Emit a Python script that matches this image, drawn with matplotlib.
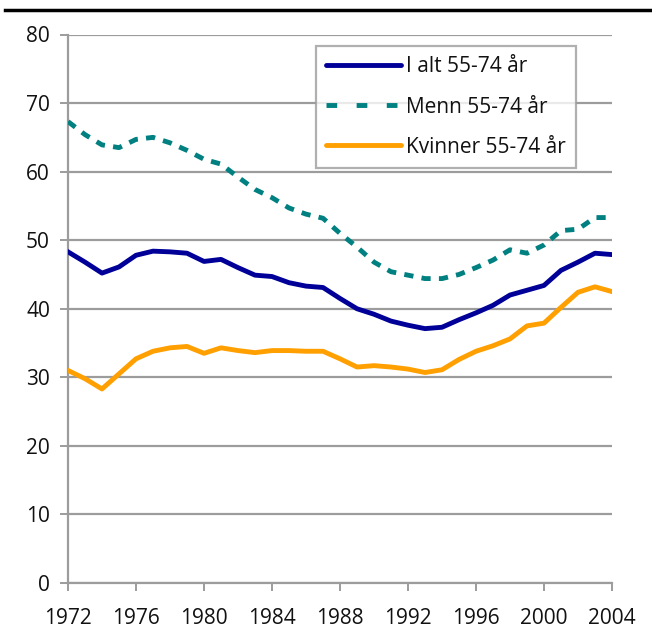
import numpy as np
import matplotlib
matplotlib.use("Agg")
import matplotlib.pyplot as plt
from matplotlib.lines import Line2D

plt.rcParams['font.family'] = ['Open Sans', 'DejaVu Sans']

years = np.arange(1972, 2005)
i_alt = [48.3, 46.8, 45.2, 46.1, 47.8, 48.4, 48.3, 48.1, 46.9, 47.2, 46.0,
         44.9, 44.7, 43.8, 43.3, 43.1, 41.5, 40.0, 39.2, 38.2, 37.6, 37.1,
         37.3, 38.4, 39.4, 40.5, 42.0, 42.7, 43.4, 45.6, 46.8, 48.1, 47.9]
menn = [67.3, 65.4, 63.9, 63.5, 64.7, 65.0, 64.2, 63.1, 61.8, 61.1, 59.2,
        57.4, 56.2, 54.7, 53.8, 53.2, 51.0, 49.0, 46.8, 45.4, 44.9, 44.4,
        44.4, 45.0, 46.0, 47.1, 48.6, 48.1, 49.3, 51.4, 51.6, 53.3, 53.3]
kvinner = [31.0, 29.8, 28.3, 30.5, 32.7, 33.8, 34.3, 34.5, 33.5, 34.3, 33.9,
           33.6, 33.9, 33.9, 33.8, 33.8, 32.7, 31.5, 31.7, 31.5, 31.2, 30.7,
           31.1, 32.6, 33.8, 34.6, 35.6, 37.5, 37.9, 40.2, 42.4, 43.2, 42.5]
labels = ["I alt 55-74 år", "Menn 55-74 år", "Kvinner 55-74 år"]

grey = "#9c9c9c"

fig = plt.figure(figsize=(6.52, 6.28), dpi=100)
ax = fig.add_axes([68 / 652, 1 - 583 / 628, 544 / 652, 548.5 / 628])

ax.plot(years, i_alt, color="#000099", lw=3.5, label=labels[0], zorder=3)
ax.plot(years, menn, color="#008080", lw=3.5, ls=(0, (1.9, 1.7)),
        dash_capstyle="butt", label=labels[1], zorder=3)
ax.plot(years, kvinner, color="#ff9f00", lw=3.5, label=labels[2], zorder=3)

ax.set_xlim(1972, 2004)
ax.set_ylim(0, 80)
ax.set_xticks(np.arange(1972, 2005, 4))
ax.set_yticks(np.arange(0, 81, 10))
ax.yaxis.grid(True, color=grey, lw=1.6)
ax.set_axisbelow(True)
for s in ["top", "right"]:
    ax.spines[s].set_visible(False)
for s in ["left", "bottom"]:
    ax.spines[s].set_color(grey)
    ax.spines[s].set_linewidth(1.6)
ax.tick_params(axis="both", direction="out", length=6, width=1.4,
               color=grey, labelsize=15, labelcolor="#111111")
ax.tick_params(axis="y", pad=7)
ax.tick_params(axis="x", pad=12)

handles = [Line2D([], [], color="#000099", lw=3.5, solid_capstyle="round"),
           Line2D([], [], color="#008080", lw=3.5, ls=(0, (2.2, 4.0))),
           Line2D([], [], color="#ff9f00", lw=3.5, solid_capstyle="round")]
leg = ax.legend(handles, labels, loc="upper left",
                bbox_to_anchor=(0.456, 0.979), fontsize=15, frameon=True,
                fancybox=False, edgecolor=grey, handlelength=3.6,
                handletextpad=0.2, labelspacing=0.92, borderpad=0.5,
                borderaxespad=0)
leg.get_frame().set_linewidth(1.6)
leg.set_zorder(5)
for t in leg.get_texts():
    t.set_color("#111111")

fig.add_artist(Line2D([5 / 652, 1], [1 - 10 / 628, 1 - 10 / 628],
                      color="black", lw=2.5))

fig.savefig("out.png", dpi=100)
